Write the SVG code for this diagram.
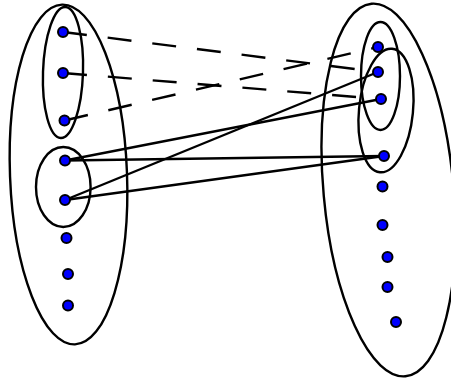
<svg xmlns="http://www.w3.org/2000/svg" width="451" height="380" viewBox="0 0 451 380">
<style>
.set{fill:none;stroke:#000;stroke-width:2.4}
.e{stroke:#000;stroke-width:2.4;fill:none}
.d{stroke-dasharray:24 21}
.n{fill:#0000ff;stroke:#000;stroke-width:2}
</style>
<rect width="451" height="380" fill="#fff"/>
<g id="sets">
<ellipse id="setL" class="set" cx="68.5" cy="174.5" rx="58.5" ry="170" transform="rotate(-2.2 68.5 174.5)"/>
<ellipse id="setL1" class="set" cx="63" cy="72.5" rx="20" ry="65.5" transform="rotate(2 63 72.5)"/>
<ellipse id="setL2" class="set" cx="63.3" cy="187" rx="27.3" ry="40"/>
<ellipse id="setR" class="set" cx="388.5" cy="190" rx="65" ry="187" transform="rotate(-5.2 388.5 190)"/>
<ellipse id="setR1" class="set" cx="380.5" cy="76" rx="19.5" ry="54"/>
<ellipse id="setR2" class="set" cx="386" cy="110.5" rx="27" ry="62" transform="rotate(5.6 386 110.5)"/>
</g>
<g id="connectors">
<line class="e d" x1="63" y1="32" x2="378" y2="72"/>
<line class="e d" x1="63" y1="73" x2="381" y2="99"/>
<line class="e d" x1="64.5" y1="120.5" x2="378" y2="47"/>
<line class="e" x1="65" y1="160.5" x2="381" y2="99"/>
<line class="e" x1="65" y1="160.5" x2="384" y2="156"/>
<line class="e" x1="65" y1="200" x2="378" y2="72"/>
<line class="e" x1="65" y1="200" x2="384" y2="156"/>
</g>
<g id="L1"><circle class="n" cx="63" cy="32" r="5"/></g>
<g id="L2"><circle class="n" cx="63" cy="73" r="5"/></g>
<g id="L3"><circle class="n" cx="64.5" cy="120.5" r="5"/></g>
<g id="L4"><circle class="n" cx="65" cy="160.5" r="5"/></g>
<g id="L5"><circle class="n" cx="65" cy="200" r="5"/></g>
<g id="L6"><circle class="n" cx="66.5" cy="238" r="5"/></g>
<g id="L7"><circle class="n" cx="68" cy="274" r="5"/></g>
<g id="L8"><circle class="n" cx="68" cy="305.5" r="5"/></g>
<g id="R1"><circle class="n" cx="378" cy="47" r="5"/></g>
<g id="R2"><circle class="n" cx="378" cy="72" r="5"/></g>
<g id="R3"><circle class="n" cx="381" cy="99" r="5"/></g>
<g id="R4"><circle class="n" cx="384" cy="156" r="5"/></g>
<g id="R5"><circle class="n" cx="382.5" cy="186.5" r="5"/></g>
<g id="R6"><circle class="n" cx="382.5" cy="225" r="5"/></g>
<g id="R7"><circle class="n" cx="387.5" cy="257" r="5"/></g>
<g id="R8"><circle class="n" cx="387.5" cy="287" r="5"/></g>
<g id="R9"><circle class="n" cx="396" cy="322" r="5"/></g>
</svg>
